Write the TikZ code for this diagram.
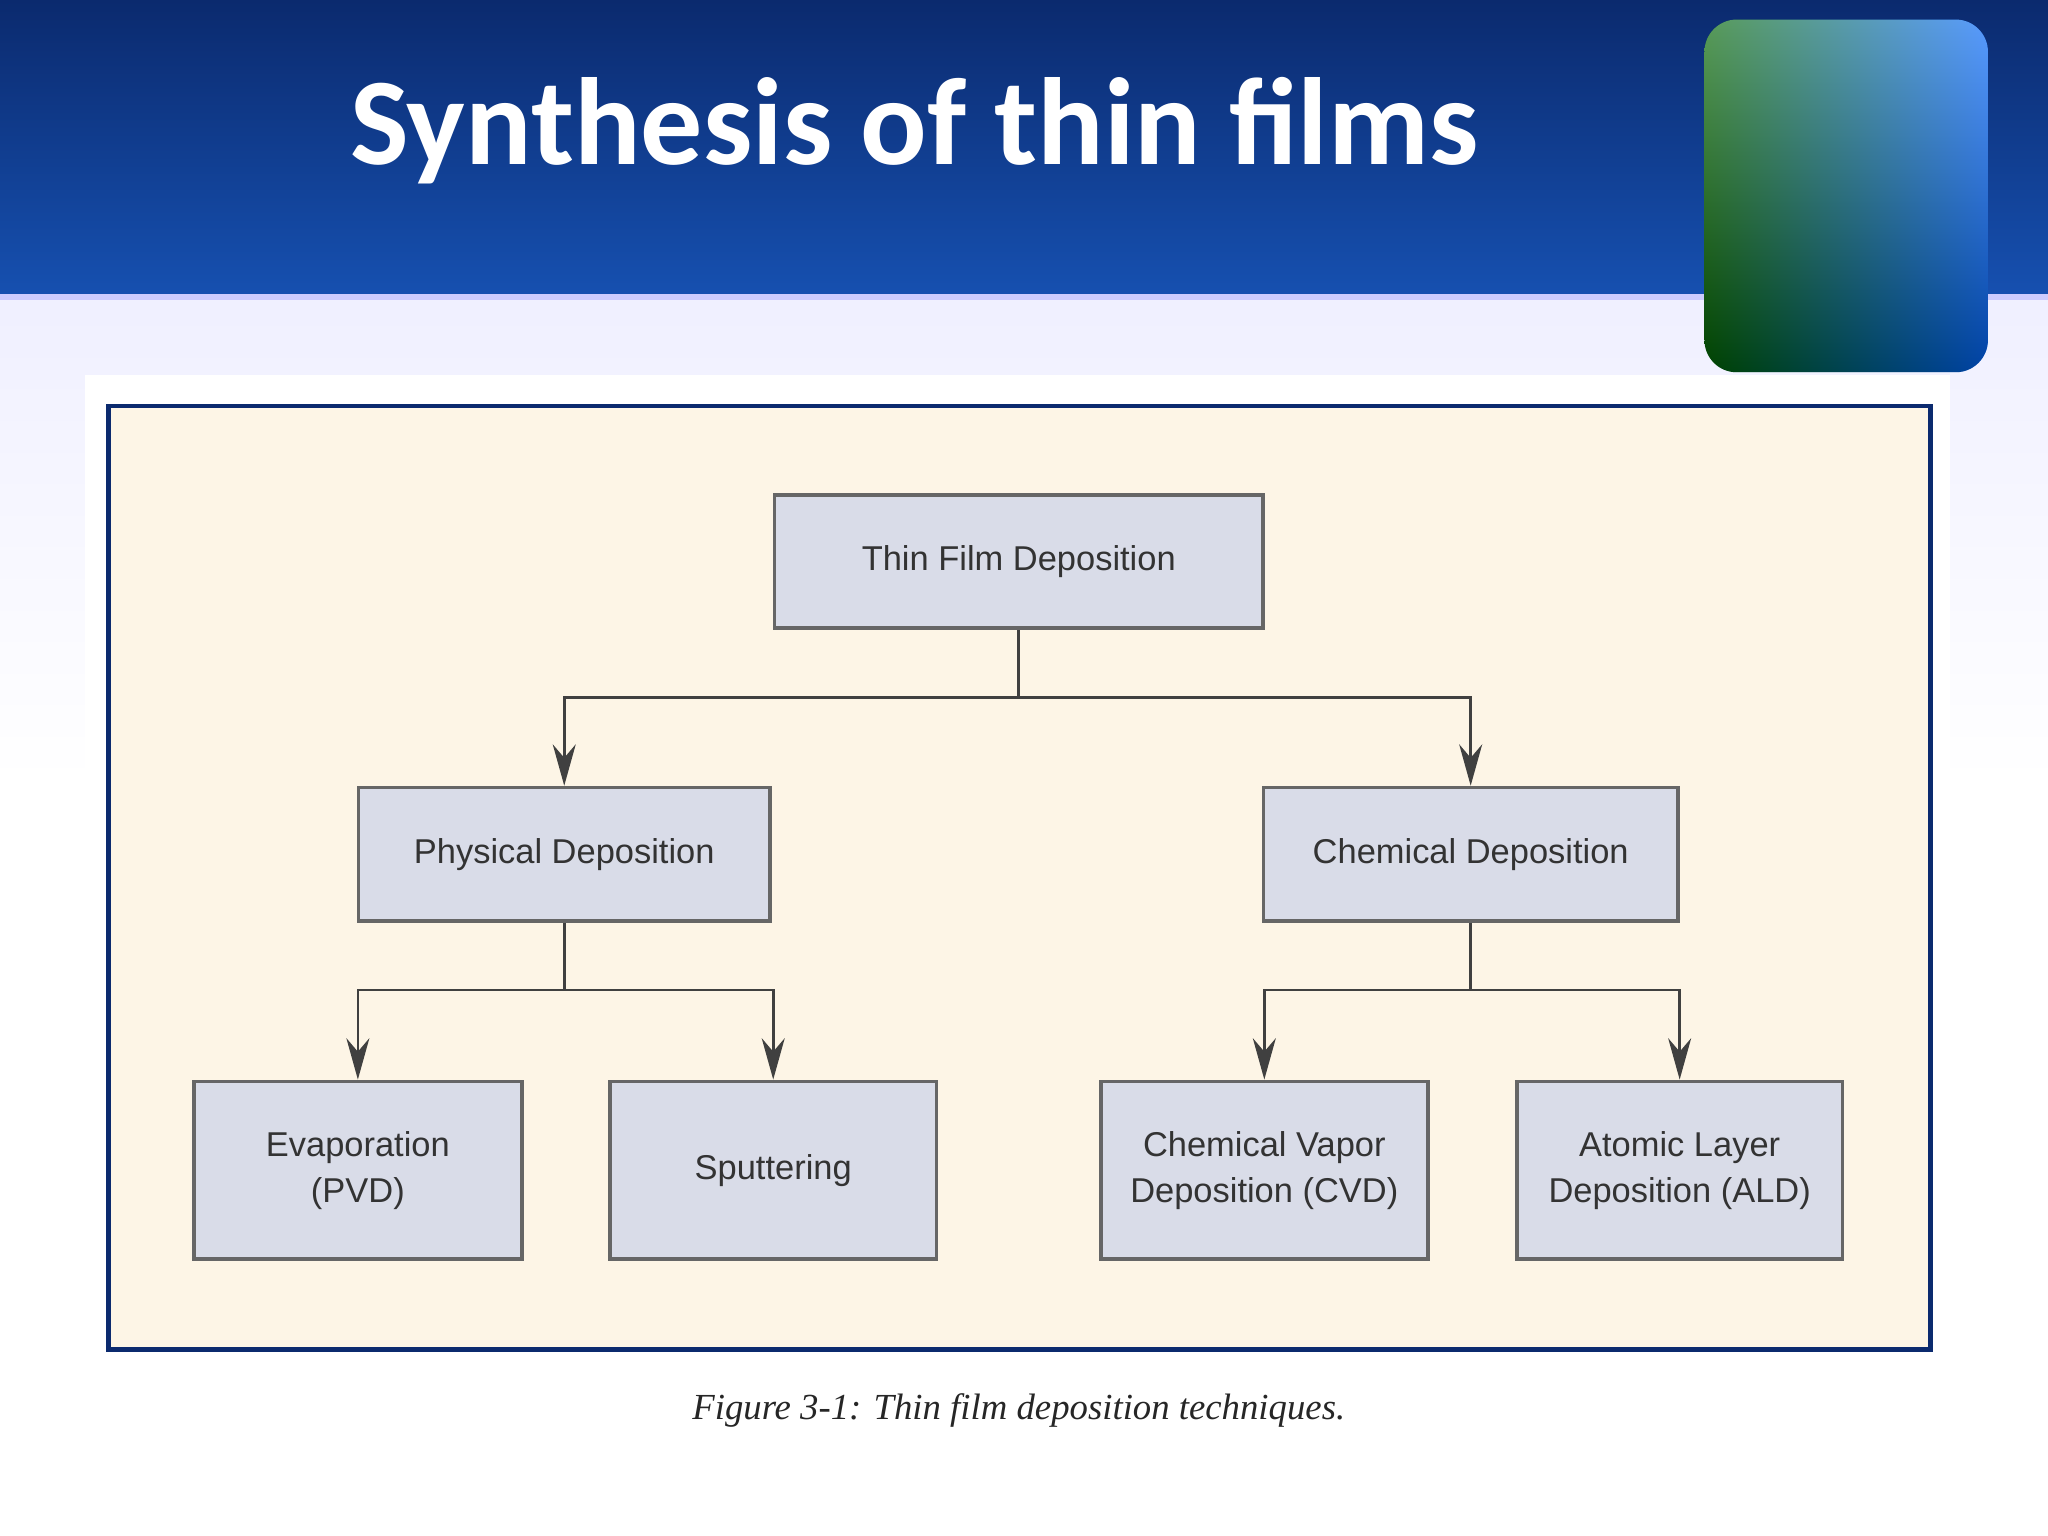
\documentclass[tikz,border=0pt]{standalone}
\usepackage{fontspec}
\setmainfont{Liberation Sans}
\newfontfamily\titlefont{Carlito}
\newfontfamily\capfont{Liberation Serif}
\usetikzlibrary{arrows.meta}
\definecolor{navy}{HTML}{0B2A6E}
\definecolor{hblue}{HTML}{1650B0}
\definecolor{beige}{HTML}{FDF5E6}
\definecolor{boxfill}{HTML}{D9DCE8}
\tikzset{
  box/.style={draw=gray!80!black, line width=0.8pt, fill=boxfill, text=black!80, font=\fontsize{7.5}{10}\selectfont, align=center, inner sep=0pt},
  conn/.style={draw=black!75, line width=0.6pt},
  arr/.style={conn, -{Stealth[length=9pt,width=5pt]}}
}
\begin{document}
\begin{tikzpicture}[x=0.01cm,y=-0.01cm]
\useasboundingbox (0,0) rectangle (1568,1176);
% background
\shade[top color=white!85!blue!40, bottom color=white] (0,230) rectangle (1568,600);
\fill[white] (0,600) rectangle (1568,1176);
\shade[top color=navy, bottom color=hblue] (0,0) rectangle (1568,225);
\fill[white!80!blue] (0,225) rectangle (1568,230);
% decorative square
\shade[left color=green!40!black, right color=blue!60!cyan, rounded corners=7pt] (1305,15) rectangle (1522,285);
\shade[top color=black!0, bottom color=black, opacity=0.35, rounded corners=7pt] (1305,15) rectangle (1522,285);
% title
\node[text=white, font=\titlefont\bfseries\fontsize{27}{30}\selectfont] (title) at (700,100) {Synthesis of thin films};
% panel
\fill[white] (65,287) rectangle (1493,1176);
\draw[fill=beige, draw=navy, line width=1pt] (83,311) rectangle (1478,1033);
% boxes
\node[box, minimum width=3.74cm, minimum height=1.02cm] (top) at (780,430) {Thin Film Deposition};
\node[box, minimum width=3.15cm, minimum height=1.02cm] (phys) at (432,654) {Physical Deposition};
\node[box, minimum width=3.17cm, minimum height=1.02cm] (chem) at (1126,654) {Chemical Deposition};
\node[box, minimum width=2.51cm, minimum height=1.36cm] (evap) at (274,896) {Evaporation\\(PVD)};
\node[box, minimum width=2.50cm, minimum height=1.36cm] (sput) at (592,896) {Sputtering};
\node[box, minimum width=2.50cm, minimum height=1.36cm] (cvd) at (968,896) {Chemical Vapor\\Deposition (CVD)};
\node[box, minimum width=2.49cm, minimum height=1.36cm] (ald) at (1286,896) {Atomic Layer\\Deposition (ALD)};
% connectors
\coordinate (j1) at (780,534);
\coordinate (j2) at (432,758);
\coordinate (j3) at (1126,758);
\draw[conn] (top.south) -- (j1);
\draw[arr] (j1) -| (phys.north);
\draw[arr] (j1) -| (chem.north);
\draw[conn] (phys.south) -- (j2);
\draw[arr] (j2) -| (evap.north);
\draw[arr] (j2) -| (sput.north);
\draw[conn] (chem.south) -- (j3);
\draw[arr] (j3) -| (cvd.north);
\draw[arr] (j3) -| (ald.north);
% caption
\node[font=\capfont\itshape\fontsize{8}{10}\selectfont, text=black!85] (cap) at (780,1080) {Figure 3-1: Thin film deposition techniques.};
\end{tikzpicture}
\end{document}
